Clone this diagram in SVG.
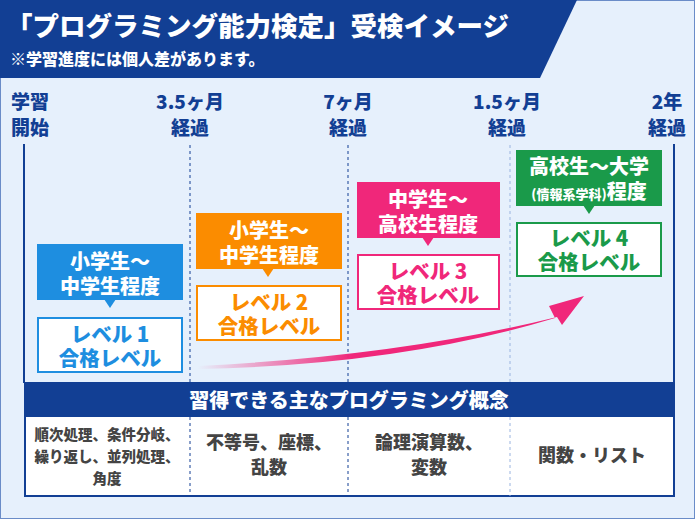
<svg xmlns="http://www.w3.org/2000/svg" width="695" height="519" viewBox="0 0 695 519">
<defs>
<style>
text{font-family:"Noto Sans CJK JP","Noto Sans",sans-serif;font-weight:900;text-anchor:middle}
.tl{fill:#123f94;font-size:19px}
.w{fill:#fff}
.cap{fill:#fff;font-size:20px}
.bx{fill:#fff;stroke-width:2}
.lv{font-size:20.5px}
.cell{fill:#444;font-size:18px}
</style>
<linearGradient id="ag" x1="0" y1="0" x2="1" y2="0">
<stop offset="0" stop-color="#f0277a" stop-opacity="0"/>
<stop offset="0.4" stop-color="#f0277a"/>
<stop offset="1" stop-color="#f0277a"/>
</linearGradient>
</defs>
<rect x="0.5" y="0.5" width="694" height="518" fill="#e6f0fc" stroke="#6a8cc8"/>
<g id="header">
<polygon points="0,0 577,0 540,78 0,78" fill="#123f94"/>
<text x="6" y="36" style="text-anchor:start;font-size:26.5px" class="w">「プログラミング能力検定」受検イメージ</text>
<text x="10" y="65" style="text-anchor:start;font-size:16px" class="w">※学習進度には個人差があります。</text>
</g>
<g id="timeline">
<text class="tl" x="30" y="109">学習</text><text class="tl" x="30" y="135">開始</text>
<text class="tl" x="190" y="109">3.5ヶ月</text><text class="tl" x="190" y="135">経過</text>
<text class="tl" x="348" y="109">7ヶ月</text><text class="tl" x="348" y="135">経過</text>
<text class="tl" x="507" y="109">1.5ヶ月</text><text class="tl" x="507" y="135">経過</text>
<text class="tl" x="667" y="109">2年</text><text class="tl" x="667" y="135">経過</text>
</g>
<g id="connectors" stroke="#123f94">
<line x1="24" y1="144" x2="24" y2="383" stroke-width="2"/>
<line x1="674" y1="144" x2="674" y2="383" stroke-width="2"/>
<line x1="190" y1="145" x2="190" y2="496" stroke-dasharray="3,3"/>
<line x1="348" y1="145" x2="348" y2="496" stroke-dasharray="3,3"/>
<line x1="510" y1="145" x2="510" y2="496" stroke="#9ab4e0" stroke-dasharray="3,3"/>
<path d="M198,369 Q400,365 555,318 L549,306 L584,296 L562,325 L557,317 Q400,356 198,366 Z" fill="url(#ag)" stroke="none"/>
</g>
<g id="table">
<rect x="25" y="383" width="649" height="113" fill="#fff" stroke="#123f94" stroke-width="2"/>
<rect x="25" y="383" width="649" height="34" fill="#123f94"/>
<text x="349" y="408" class="w" style="font-size:20px">習得できる主なプログラミング概念</text>
<line x1="190" y1="417" x2="190" y2="496" stroke="#123f94" stroke-dasharray="3,3"/>
<line x1="348" y1="417" x2="348" y2="496" stroke="#123f94" stroke-dasharray="3,3"/>
<line x1="510" y1="417" x2="510" y2="496" stroke="#9ab4e0" stroke-dasharray="3,3"/>
<text class="cell" style="font-size:14.5px" x="107" y="440">順次処理、条件分岐、</text>
<text class="cell" style="font-size:14.5px" x="107" y="462">繰り返し、並列処理、</text>
<text class="cell" style="font-size:14.5px" x="107" y="484">角度</text>
<text class="cell" x="269" y="449">不等号、座標、</text><text class="cell" x="269" y="474">乱数</text>
<text class="cell" x="429" y="449">論理演算数、</text><text class="cell" x="429" y="474">変数</text>
<text class="cell" x="592" y="462">関数・リスト</text>
</g>
<g id="level1">
<rect x="37" y="244" width="146" height="56" fill="#1e8ee0"/><polygon points="104,299 116,299 110,308" fill="#1e8ee0"/>
<text class="cap" x="110" y="269">小学生〜</text><text class="cap" x="110" y="294">中学生程度</text>
<rect class="bx" x="38" y="318" width="144" height="54" stroke="#1e8ee0"/>
<text class="lv" x="110" y="342" fill="#1e8ee0">レベル 1</text><text class="lv" x="110" y="366" fill="#1e8ee0">合格レベル</text>
</g>
<g id="level2">
<rect x="196" y="213" width="146" height="56" fill="#fb8c00"/><polygon points="262,268 274,268 268,277" fill="#fb8c00"/>
<text class="cap" x="269" y="238">小学生〜</text><text class="cap" x="269" y="263">中学生程度</text>
<rect class="bx" x="197" y="286" width="144" height="54" stroke="#fb8c00"/>
<text class="lv" x="269" y="310" fill="#fb8c00">レベル 2</text><text class="lv" x="269" y="334" fill="#fb8c00">合格レベル</text>
</g>
<g id="level3">
<rect x="357" y="182" width="143" height="56" fill="#f0277a"/><polygon points="422,237 434,237 428,246" fill="#f0277a"/>
<text class="cap" x="428" y="207">中学生〜</text><text class="cap" x="428" y="232">高校生程度</text>
<rect class="bx" x="358" y="255" width="141" height="54" stroke="#f0277a"/>
<text class="lv" x="428" y="279" fill="#f0277a">レベル 3</text><text class="lv" x="428" y="303" fill="#f0277a">合格レベル</text>
</g>
<g id="level4">
<rect x="516" y="150" width="146" height="56" fill="#1a9a4a"/><polygon points="583,205 595,205 589,214" fill="#1a9a4a"/>
<text class="cap" x="589" y="174">高校生〜大学</text><text class="cap" x="589" y="199"><tspan style="font-size:13px">(情報系学科)</tspan>程度</text>
<rect class="bx" x="517" y="223" width="144" height="53" stroke="#1a9a4a"/>
<text class="lv" x="589" y="246" fill="#1a9a4a">レベル 4</text><text class="lv" x="589" y="270" fill="#1a9a4a">合格レベル</text>
</g>
</svg>
